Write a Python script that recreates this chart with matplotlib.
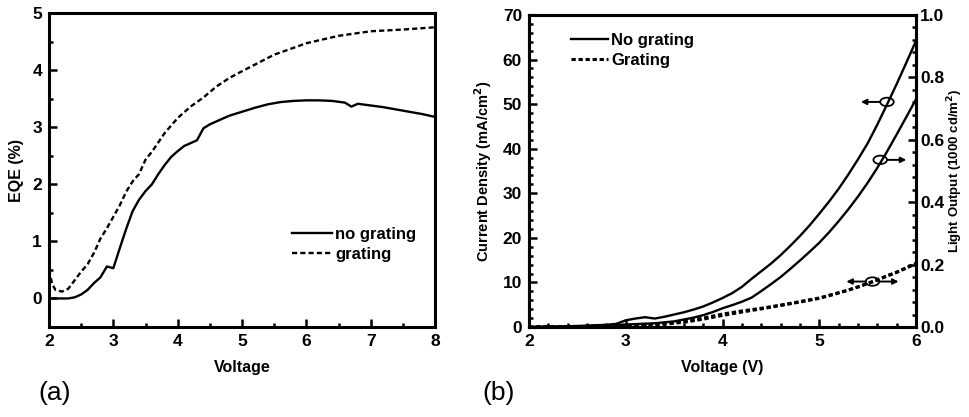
import numpy as np
import matplotlib.pyplot as plt
from matplotlib.patches import Ellipse
from matplotlib.ticker import MultipleLocator

plt.rcParams['font.family'] = ['Liberation Sans', 'DejaVu Sans']
plt.rcParams['font.weight'] = 'bold'

# (a) EQE vs voltage
eqe_v_no = [2.0, 2.1, 2.2, 2.3, 2.4, 2.5, 2.6, 2.7, 2.8, 2.9, 3.0, 3.1, 3.2, 3.3, 3.4,
            3.5, 3.6, 3.7, 3.8, 3.9, 4.0, 4.1, 4.2, 4.3, 4.4, 4.5, 4.6, 4.8, 5.0, 5.2,
            5.4, 5.6, 5.8, 6.0, 6.2, 6.4, 6.6, 6.7, 6.8, 7.0, 7.2, 7.4, 7.6, 7.8, 8.0]
eqe_no = [0.0, 0.0, 0.0, 0.0, 0.02, 0.07, 0.15, 0.27, 0.37, 0.56, 0.53, 0.88, 1.22, 1.53, 1.73,
          1.88, 2.0, 2.18, 2.34, 2.48, 2.58, 2.67, 2.72, 2.77, 2.98, 3.05, 3.1, 3.2, 3.27, 3.34,
          3.4, 3.44, 3.46, 3.47, 3.47, 3.46, 3.43, 3.36, 3.41, 3.38, 3.35, 3.31, 3.27, 3.23, 3.18]
eqe_v_gr = [2.0, 2.05, 2.1, 2.2, 2.3, 2.4, 2.5, 2.6, 2.7, 2.8, 2.9, 3.0, 3.1, 3.2, 3.3,
            3.4, 3.5, 3.6, 3.8, 4.0, 4.2, 4.4, 4.6, 4.8, 5.0, 5.5, 6.0, 6.5, 7.0, 7.5, 8.0]
eqe_gr = [0.5, 0.25, 0.15, 0.12, 0.17, 0.32, 0.47, 0.6, 0.8, 1.05, 1.23, 1.43, 1.63, 1.87, 2.05,
          2.18, 2.43, 2.57, 2.9, 3.16, 3.36, 3.52, 3.71, 3.86, 3.98, 4.27, 4.47, 4.6, 4.68, 4.71, 4.75]

# (b) current density (left axis) and light output (right axis) vs voltage
jv_v = [2.0, 2.3, 2.6, 2.8, 2.9, 3.0, 3.1, 3.2, 3.3, 3.4, 3.5, 3.6, 3.7, 3.8, 3.9, 4.0,
        4.1, 4.2, 4.3, 4.4, 4.5, 4.6, 4.7, 4.8, 4.9, 5.0, 5.1, 5.2, 5.3, 5.4, 5.5, 5.6,
        5.7, 5.8, 5.9, 6.0]
j_no = [0.0, 0.1, 0.3, 0.5, 0.7, 1.5, 1.9, 2.2, 1.9, 2.3, 2.8, 3.3, 3.9, 4.6, 5.5, 6.5,
        7.6, 9.0, 10.8, 12.5, 14.2, 16.1, 18.2, 20.4, 22.8, 25.4, 28.1, 31.0, 34.2, 37.6, 41.2, 45.4,
        49.9, 54.5, 59.3, 64.2]
l_v = [2.0, 2.5, 3.0, 3.3, 3.5, 3.7, 3.8, 3.9, 4.0, 4.1, 4.2, 4.3, 4.4, 4.5, 4.6, 4.7,
       4.8, 4.9, 5.0, 5.1, 5.2, 5.3, 5.4, 5.5, 5.6, 5.7, 5.8, 5.9, 6.0]
l_no = [0.0, 0.002, 0.008, 0.012, 0.018, 0.03, 0.038, 0.048, 0.06, 0.07, 0.081, 0.094, 0.115, 0.137, 0.16, 0.186,
        0.213, 0.241, 0.27, 0.303, 0.339, 0.377, 0.418, 0.462, 0.51, 0.562, 0.617, 0.673, 0.73]
gr_v = [2.0, 2.5, 3.0, 3.2, 3.4, 3.6, 3.8, 4.0, 4.2, 4.4, 4.6, 4.8, 5.0, 5.1, 5.2, 5.3,
        5.4, 5.5, 5.6, 5.7, 5.8, 5.9, 6.0]
j_gr = [0.0, 0.1, 0.3, 0.5, 0.8, 1.3, 2.0, 2.9, 3.6, 4.2, 4.9, 5.7, 6.5, 7.1, 7.7, 8.3,
        9.0, 9.8, 10.6, 11.5, 12.3, 13.3, 14.3]
l_gr = [0.0, 0.001, 0.004, 0.006, 0.009, 0.015, 0.025, 0.037, 0.048, 0.058, 0.069, 0.08, 0.092, 0.1, 0.109, 0.118,
        0.128, 0.139, 0.15, 0.163, 0.175, 0.189, 0.203]

W, H = 969, 417
fig = plt.figure(figsize=(W / 100, H / 100), dpi=100)

lw = 1.7


def style(ax, right=False):
    for s in ax.spines.values():
        s.set_linewidth(2.2)
    ax.tick_params(which='both', direction='in', top=False, right=right,
                   labelsize=12.5, width=1.8)
    ax.tick_params(which='major', length=6, pad=5)
    ax.tick_params(which='minor', length=3)
    for t in ax.get_xticklabels() + ax.get_yticklabels():
        t.set_fontweight('bold')


# panel (a)
ax1 = fig.add_axes([49 / W, 90 / H, 386 / W, 314 / H])
ax1.plot(eqe_v_no, eqe_no, color='black', lw=lw, label='no grating')
ax1.plot(eqe_v_gr, eqe_gr, color='black', lw=lw, linestyle=(0, (2.2, 1.3)), label='grating')
ax1.set_xlim(2, 8)
ax1.set_ylim(-0.5, 5)
ax1.xaxis.set_major_locator(MultipleLocator(1))
ax1.xaxis.set_minor_locator(MultipleLocator(0.5))
ax1.yaxis.set_minor_locator(MultipleLocator(0.5))
ax1.set_yticks([0, 1, 2, 3, 4, 5])
style(ax1)
ax1.set_xlabel('Voltage', fontsize=11.5, fontweight='bold', labelpad=8)
ax1.set_ylabel('EQE (%)', fontsize=11.5, fontweight='bold', labelpad=6)
ax1.legend(loc='lower right', bbox_to_anchor=(0.99, 0.16), frameon=False,
           handlelength=2.4, handletextpad=0.2, labelspacing=0.3,
           prop={'weight': 'bold', 'size': 12})

# panel (b)
dash_b = (0, (1.4, 0.9))
ax2 = fig.add_axes([529 / W, 90 / H, 387 / W, 312 / H])
ax2.plot(jv_v, j_no, color='black', lw=lw, label='No grating')
ax2.plot(gr_v, j_gr, color='black', lw=2.2, linestyle=dash_b, label='Grating')
ax2.set_xlim(2, 6)
ax2.set_ylim(0, 70)
ax2.xaxis.set_major_locator(MultipleLocator(1))
ax2.xaxis.set_minor_locator(MultipleLocator(0.2))
ax2.yaxis.set_major_locator(MultipleLocator(10))
ax2.yaxis.set_minor_locator(MultipleLocator(2))
style(ax2)
ax2.set_xlabel('Voltage (V)', fontsize=11.5, fontweight='bold', labelpad=8)
ax2.set_ylabel('Current Density (mA/cm$^\\mathbf{2}$)', fontsize=10.5, fontweight='bold', labelpad=6)
ax2.legend(loc='upper left', bbox_to_anchor=(0.07, 0.99), frameon=False,
           handlelength=2.2, handletextpad=0.2, labelspacing=0.3,
           prop={'weight': 'bold', 'size': 12})

ax3 = ax2.twinx()
ax3.plot(l_v, l_no, color='black', lw=lw)
ax3.plot(gr_v, l_gr, color='black', lw=2.2, linestyle=dash_b)
ax3.set_ylim(0, 1.0)
ax3.yaxis.set_major_locator(MultipleLocator(0.2))
ax3.yaxis.set_minor_locator(MultipleLocator(0.04))
ax3.yaxis.set_major_formatter(plt.FuncFormatter(lambda v, p: '%.1f' % v))
style(ax3, right=True)
ax3.tick_params(axis='y', which='major', pad=3)
ax3.set_ylabel('Light Output (1000 cd/m$^\\mathbf{2}$)', fontsize=9.5, fontweight='bold', labelpad=1)

# curve markers with arrows
for (cx, cy), dirs in [((5.7, 50.5), [-1]), ((5.63, 37.5), [1]), ((5.55, 10.2), [-1, 1])]:
    ax2.add_patch(Ellipse((cx, cy), 0.14, 1.9, fill=False, lw=1.3, color='black'))
    for d in dirs:
        x0 = cx + d * 0.07
        x1 = cx + d * 0.27
        ax2.annotate('', xy=(x1, cy), xytext=(x0, cy),
                     arrowprops=dict(arrowstyle='-|>', color='black', lw=1.4,
                                     mutation_scale=8, shrinkA=0, shrinkB=0))

fig.text(38 / W, 1 - 393 / H, '(a)', fontsize=19, fontweight='normal', va='center')
fig.text(482 / W, 1 - 393 / H, '(b)', fontsize=19, fontweight='normal', va='center')

fig.savefig('out.png', dpi=100)
